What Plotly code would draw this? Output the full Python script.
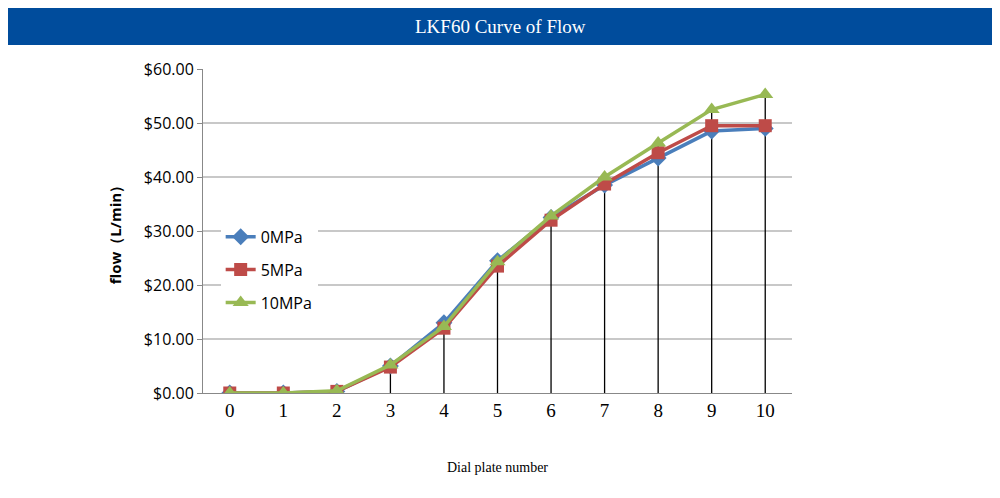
import plotly.graph_objects as go

dial = [0, 1, 2, 3, 4, 5, 6, 7, 8, 9, 10]
flow_0 = [0, 0, 0.3, 5.0, 13.0, 24.5, 32.5, 38.5, 43.5, 48.5, 49.0]
flow_5 = [0, 0, 0.3, 4.8, 12.0, 23.5, 32.0, 38.7, 44.5, 49.5, 49.5]
flow_10 = [0, 0, 0.4, 5.2, 12.3, 24.3, 32.8, 40.0, 46.3, 52.5, 55.3]
drop_start = 3

dx, dy = [], []
for x, y in zip(dial, flow_10):
    if x >= drop_start:
        dx += [x, x, None]
        dy += [0, y, None]

fig = go.Figure()
fig.add_trace(go.Scatter(x=dx, y=dy, mode="lines", line=dict(color="black", width=1.3),
                         showlegend=False, hoverinfo="skip"))
fig.add_trace(go.Scatter(x=dial, y=flow_0, name="0MPa", legendgroup="a", mode="lines+markers",
                         line=dict(color="#4A7EBB", width=3.5), marker=dict(symbol="diamond", size=13)))
fig.add_trace(go.Scatter(x=dial, y=flow_5, name="5MPa", legendgroup="b", mode="lines+markers",
                         line=dict(color="#BE4B48", width=3.5), marker=dict(symbol="square", size=13)))
fig.add_trace(go.Scatter(x=dial, y=flow_10, name="10MPa", legendgroup="c", mode="lines+markers",
                         line=dict(color="#98B954", width=3.5), marker=dict(symbol="triangle-up", size=14)))

fig.update_layout(
    width=1000, height=498, plot_bgcolor="white", paper_bgcolor="white",
    margin=dict(l=195, r=216, t=61, b=113),
    xaxis=dict(range=[-0.5, 10.5], tickvals=dial, showgrid=False, zeroline=False,
               showline=True, linecolor="#888", ticks="", tickfont=dict(family="Liberation Serif", size=19, color="black"),
               title=dict(text="Dial plate number", font=dict(family="Liberation Serif", size=14, color="black"), standoff=42)),
    yaxis=dict(range=[0, 60], dtick=10, tickformat="$.2f", showgrid=True, gridcolor="#C8C8C8", gridwidth=1.5,
               zeroline=False, showline=True, linecolor="#888", ticks="outside", ticklen=5, tickcolor="#888",
               tickfont=dict(family="Open Sans", size=16, color="black"),
               title=dict(text="<b>flow（L/min）</b>", font=dict(family="Open Sans", size=15, color="black"), standoff=18)),
    legend=dict(x=0.03, y=0.38, xanchor="left", yanchor="middle", font=dict(family="Open Sans", size=16, color="black"),
                traceorder="grouped", tracegroupgap=9),
    shapes=[dict(type="rect", xref="paper", yref="paper", x0=-0.345, x1=1.37, y0=1.074, y1=1.22,
                 fillcolor="#004C9C", line=dict(width=0), layer="above")],
    annotations=[dict(text="LKF60 Curve of Flow", xref="paper", yref="paper", x=(492-195)/589, y=1.13,
                      yanchor="middle", showarrow=False, font=dict(family="Liberation Serif", size=19, color="white"))],
)
fig.write_html("out.html")
